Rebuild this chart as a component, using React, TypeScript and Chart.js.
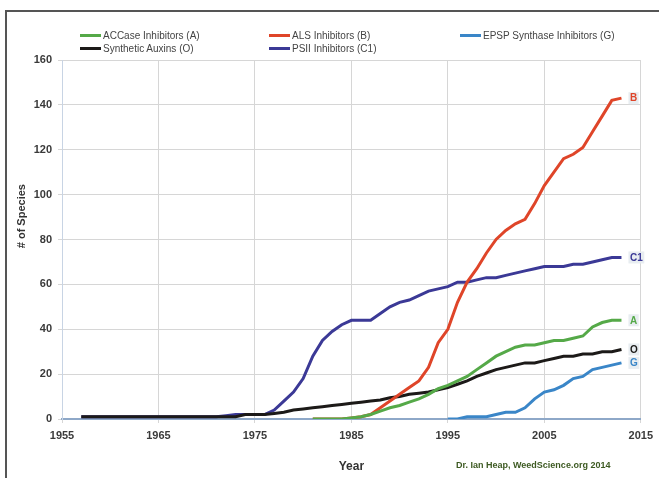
import React, { useEffect, useRef } from "react";
import { Chart, registerables } from "chart.js";

Chart.register(...registerables);

const years = [
  1957, 1958, 1959, 1960, 1961, 1962, 1963, 1964, 1965, 1966, 1967, 1968, 1969, 1970, 1971,
  1972, 1973, 1974, 1975, 1976, 1977, 1978, 1979, 1980, 1981, 1982, 1983, 1984, 1985, 1986,
  1987, 1988, 1989, 1990, 1991, 1992, 1993, 1994, 1995, 1996, 1997, 1998, 1999, 2000, 2001,
  2002, 2003, 2004, 2005, 2006, 2007, 2008, 2009, 2010, 2011, 2012, 2013,
];

const accase = [
  null, null, null, null, null, null, null, null, null, null, null, null, null, null, null,
  null, null, null, null, null, null, null, null, null, 0, 0, 0, 0, 0.5, 1,
  2, 3.5, 5, 6, 7.5, 9, 11, 13.5, 15, 17, 19, 22, 25, 28, 30,
  32, 33, 33, 34, 35, 35, 36, 37, 41, 43, 44, 44,
];

const als = [
  null, null, null, null, null, null, null, null, null, null, null, null, null, null, null,
  null, null, null, null, null, null, null, null, null, 0, 0, 0, 0, 0.5, 1,
  2, 5, 8, 11, 14, 17, 23, 34, 40, 52, 61, 67, 74, 80, 84,
  87, 89, 96, 104, 110, 116, 118, 121, 128, 135, 142, 143,
];

const epsp = [
  null, null, null, null, null, null, null, null, null, null, null, null, null, null, null,
  null, null, null, null, null, null, null, null, null, null, null, null, null, null, null,
  null, null, null, null, null, null, null, null, 0, 0, 1, 1, 1, 2, 3,
  3, 5, 9, 12, 13, 15, 18, 19, 22, 23, 24, 25,
];

const auxins = [
  1, 1, 1, 1, 1, 1, 1, 1, 1, 1, 1, 1, 1, 1, 1,
  1, 1, 2, 2, 2, 2.5, 3, 4, 4.5, 5, 5.5, 6, 6.5, 7, 7.5,
  8, 8.5, 9.5, 10, 11, 11.5, 12, 13, 14, 15.5, 17, 19, 20.5, 22, 23,
  24, 25, 25, 26, 27, 28, 28, 29, 29, 30, 30, 31,
];

const psii = [
  1, 1, 1, 1, 1, 1, 1, 1, 1, 1, 1, 1, 1, 1, 1,
  1.5, 2, 2, 2, 2, 4, 8, 12, 18, 28, 35, 39, 42, 44, 44,
  44, 47, 50, 52, 53, 55, 57, 58, 59, 61, 61, 62, 63, 63, 64,
  65, 66, 67, 68, 68, 68, 69, 69, 70, 71, 72, 72,
];

const seriesNames = [
  "ACCase Inhibitors (A)",
  "ALS Inhibitors (B)",
  "EPSP Synthase Inhibitors (G)",
  "Synthetic Auxins (O)",
  "PSII Inhibitors (C1)",
];
const seriesCodes = ["A", "B", "G", "O", "C1"];
const seriesColors = ["#55a948", "#df4529", "#3a86c8", "#1c1a18", "#3b3996"];
const seriesValues = [accase, als, epsp, auxins, psii];

const xTicks = [1955, 1965, 1975, 1985, 1995, 2005, 2015];
const yTicks = [0, 20, 40, 60, 80, 100, 120, 140, 160];
const yTitle = "# of Species";

const FONT = "'Liberation Sans', Arial, sans-serif";

const endLabels = {
  id: "endLabels",
  afterDatasetsDraw(chart: any) {
    const ctx = chart.ctx;
    ctx.save();
    chart.data.datasets.forEach((ds: any, i: number) => {
      const meta = chart.getDatasetMeta(i);
      const pts = meta.data;
      const last = pts[pts.length - 1];
      if (!last) return;
      const code = seriesCodes[i];
      ctx.font = `bold 10px ${FONT}`;
      const w = ctx.measureText(code).width;
      const x = last.x + 8;
      const y = last.y;
      ctx.fillStyle = "rgba(230,235,240,0.9)";
      ctx.fillRect(x - 1, y - 6, w + 3, 12);
      ctx.fillStyle = ds.borderColor;
      ctx.textBaseline = "middle";
      ctx.textAlign = "left";
      ctx.fillText(code, x + 0.5, y + 0.5);
    });
    ctx.restore();
  },
};

const yTitlePlugin = {
  id: "yTitlePlugin",
  afterDraw(chart: any) {
    const ctx = chart.ctx;
    const area = chart.chartArea;
    ctx.save();
    ctx.translate(22, area.top + (area.bottom - area.top) * 0.435);
    ctx.rotate(-Math.PI / 2);
    ctx.font = `bold 11px ${FONT}`;
    ctx.fillStyle = "#333";
    ctx.textAlign = "center";
    ctx.textBaseline = "middle";
    ctx.fillText(yTitle, 0, 0);
    ctx.restore();
  },
};

export default function App() {
  const ref = useRef<HTMLCanvasElement | null>(null);

  useEffect(() => {
    if (!ref.current) return;
    const chart = new Chart(ref.current, {
      type: "line",
      data: {
        datasets: seriesValues.map((vals, i) => ({
          label: seriesNames[i],
          data: years
            .map((yr, j) => ({ x: yr, y: vals[j] }))
            .filter((p) => p.y !== null),
          borderColor: seriesColors[i],
          backgroundColor: seriesColors[i],
          borderWidth: 3,
          pointRadius: 0,
          tension: 0,
          fill: false,
        })),
      },
      options: {
        animation: false,
        responsive: false,
        maintainAspectRatio: false,
        layout: { padding: { left: 0, right: 18, top: 60, bottom: 0 } },
        plugins: {
          legend: { display: false },
          tooltip: { enabled: false },
        },
        scales: {
          x: {
            type: "linear",
            min: 1955,
            max: 2015,
            afterBuildTicks: (scale: any) => {
              scale.ticks = xTicks.map((v) => ({ value: v }));
            },
            afterFit: (scale: any) => {
              scale.height = 59;
            },
            ticks: {
              color: "#3a3a3a",
              font: { family: FONT, size: 11, weight: "bold" },
              padding: 6,
              maxRotation: 0,
              callback: (v: any) => String(v),
            },
            grid: { color: "#d6d6d6", lineWidth: 1, drawTicks: true, tickLength: 4 },
            border: { color: "#8ea8c8", width: 2 },
            title: {
              display: true,
              text: "Year",
              color: "#333",
              font: { family: FONT, size: 12, weight: "bold" },
              padding: { top: 8 },
            },
          },
          y: {
            min: 0,
            max: 160,
            afterBuildTicks: (scale: any) => {
              scale.ticks = yTicks.map((v) => ({ value: v }));
            },
            afterFit: (scale: any) => {
              scale.width = 62;
            },
            ticks: {
              color: "#3a3a3a",
              font: { family: FONT, size: 11, weight: "bold" },
              padding: 6,
            },
            grid: { color: "#d6d6d6", lineWidth: 1, tickLength: 4 },
            border: { color: "#c8d4e4", width: 1 },
            title: { display: false },
          },
        },
      },
      plugins: [endLabels, yTitlePlugin],
    });
    return () => chart.destroy();
  }, []);

  const legendCols = [80, 269, 460];
  const legendRows = [35, 48];

  return (
    <div
      style={{
        position: "fixed",
        left: 0,
        top: 0,
        width: 659,
        height: 478,
        background: "#fff",
        overflow: "hidden",
        fontFamily: FONT,
      }}
    >
      <div
        style={{
          position: "absolute",
          left: 5,
          top: 10,
          width: 700,
          height: 520,
          border: "2px solid #555",
          boxSizing: "border-box",
        }}
      />
      <canvas ref={ref} width={659} height={478} style={{ position: "absolute", left: 0, top: 0 }} />
      {seriesNames.map((name, i) => (
        <div
          key={name}
          style={{
            position: "absolute",
            left: legendCols[i % 3],
            top: legendRows[Math.floor(i / 3)] - 7,
            height: 14,
            display: "flex",
            alignItems: "center",
            fontSize: 10,
            color: "#444",
            whiteSpace: "nowrap",
          }}
        >
          <span
            style={{
              display: "inline-block",
              width: 21,
              height: 3,
              background: seriesColors[i],
              marginRight: 2,
            }}
          />
          {name}
        </div>
      ))}
      <div
        style={{
          position: "absolute",
          left: 456,
          top: 460,
          fontSize: 9,
          fontWeight: "bold",
          color: "#3d5a22",
          whiteSpace: "nowrap",
        }}
      >
        Dr. Ian Heap, WeedScience.org 2014
      </div>
    </div>
  );
}
